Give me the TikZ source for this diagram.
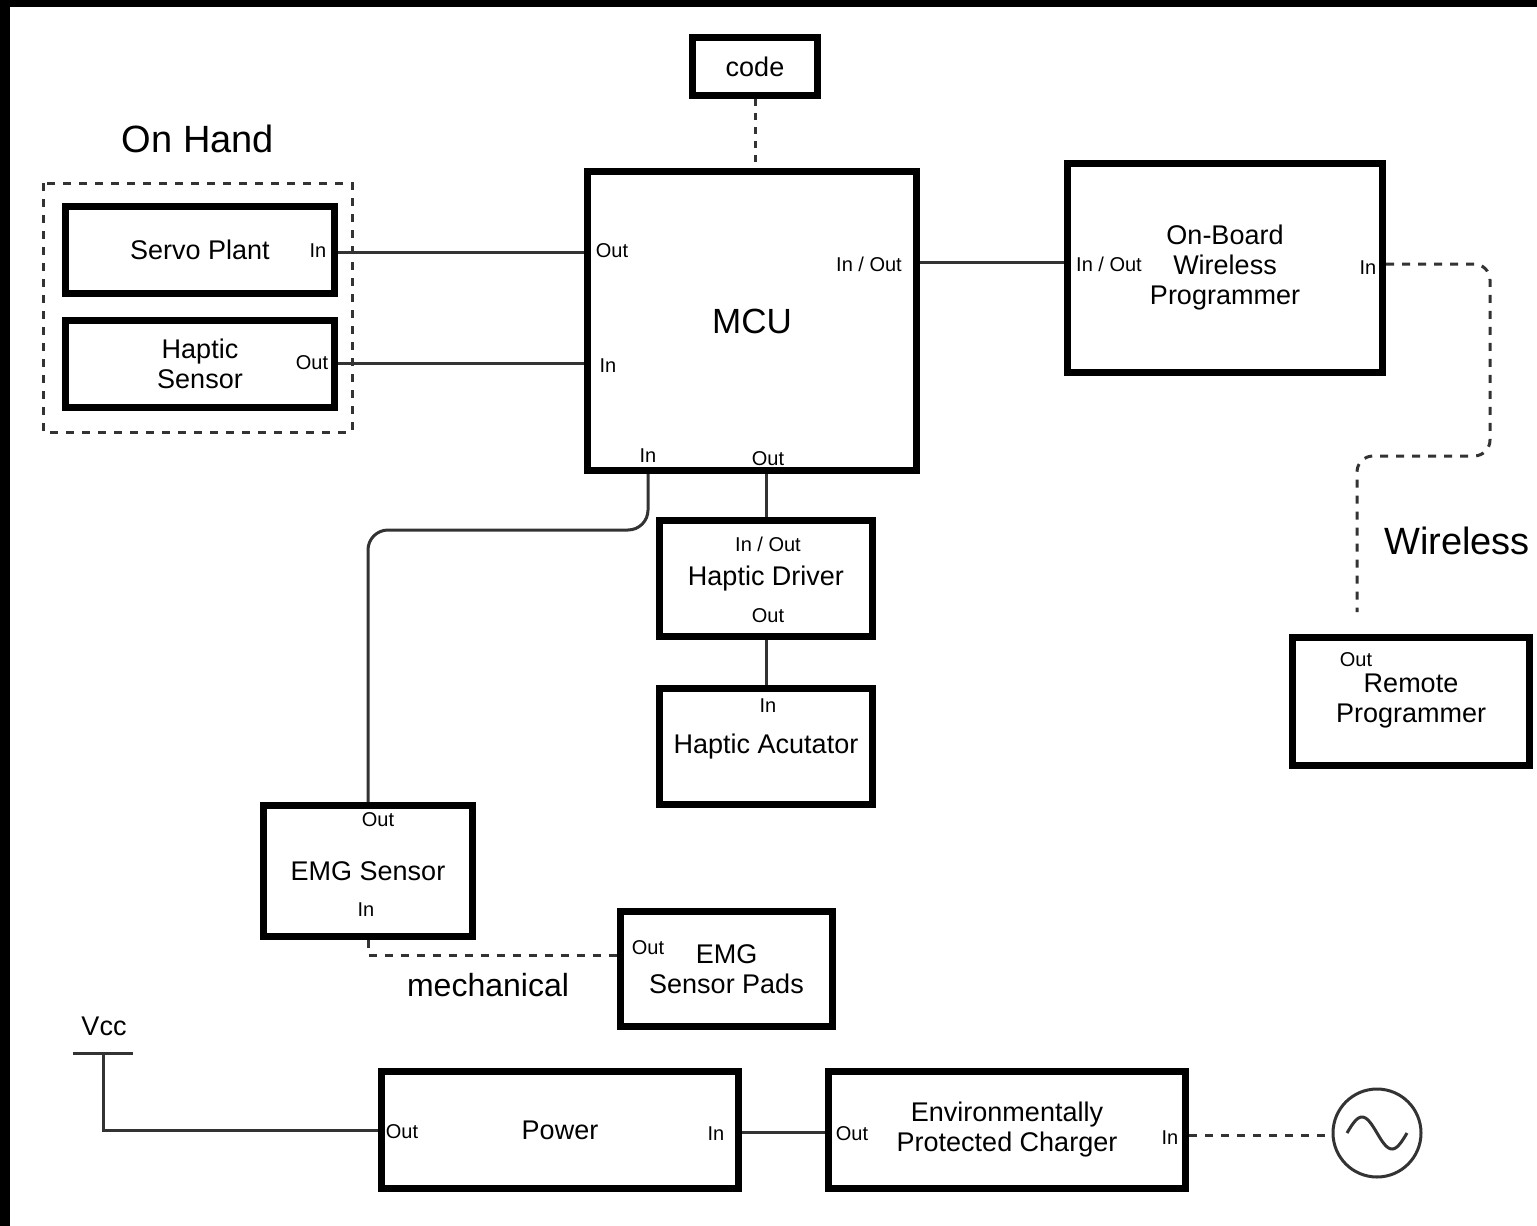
\documentclass[tikz,border=0pt]{standalone}
\usepackage{fontspec}
\setmainfont{Liberation Sans}
\newcommand\mainf{\fontsize{13.5}{15}\selectfont}
\newcommand\smallf{\fontsize{10}{12}\selectfont}
\newcommand\mcuf{\fontsize{17.5}{20}\selectfont}
\newcommand\bigf{\fontsize{19}{22}\selectfont}
\newcommand\mechf{\fontsize{16}{18}\selectfont}
\definecolor{wirec}{HTML}{333333}
\begin{document}
\begin{tikzpicture}[x=0.5pt,y=-0.5pt,
  box/.style={draw=black, line width=3.5pt, align=center, font=\mainf, inner sep=0pt},
  lbl/.style={font=\smallf, inner sep=0pt},
  title/.style={font=\bigf, inner sep=0pt},
  wire/.style={draw=wirec, line width=1.5pt},
  dwire/.style={draw=wirec, line width=1.5pt, dash pattern=on 4pt off 4pt},
]
\useasboundingbox (0,0) rectangle (1537,1226);
\fill[black] (0,0) rectangle (1537,7);
\fill[black] (0,0) rectangle (10,1226);

% boxes
\node[box, minimum width=62.5pt, minimum height=29pt] (code) at (755,66.5) {code};
\node[box, minimum width=164.5pt, minimum height=149.5pt, font=\mcuf] (mcu) at (752,321) {MCU};
\node[box, minimum width=134.5pt, minimum height=43.5pt] (servo) at (200,250) {Servo Plant};
\node[box, minimum width=134.5pt, minimum height=43.5pt] (hsens) at (200,364) {Haptic\\Sensor};
\node[box, minimum width=157.5pt, minimum height=104.5pt] (obwp) at (1225,268) {On-Board\\Wireless\\Programmer};
\node[box, minimum width=118.5pt, minimum height=64pt] (remote) at (1411,701.5) {Remote\\Programmer};
\node[box, minimum width=106.5pt, minimum height=58pt] (hdrv) at (766,578.5) {Haptic Driver};
\node[box, minimum width=106.5pt, minimum height=58pt] (hact) at (766,746.5) {Haptic Acutator};
\node[box, minimum width=104.5pt, minimum height=65.5pt] (emg) at (368,871) {EMG Sensor};
\node[box, minimum width=106pt, minimum height=57.5pt] (pads) at (726.5,969) {EMG\\Sensor Pads};
\node[box, minimum width=178.5pt, minimum height=58.5pt] (power) at (560,1130) {Power};
\node[box, minimum width=178.5pt, minimum height=58.5pt] (charger) at (1007,1130) {Environmentally\\Protected Charger};
\node[draw=wirec, line width=1.5pt, circle, minimum size=44pt, inner sep=0pt] (ac) at (1377,1133) {};
\draw[wirec, line width=1.5pt] plot[domain=-30:30, samples=50, smooth] ({1377+\x}, {1133-16*sin(180*(\x+30)/30)});

% group frame and titles
\draw[dwire] (43,183) rectangle (352,432);
\node[title] (onhand) at (198,139) {On Hand};
\node[title] (wless) at (1457,541) {Wireless};
\node[font=\mechf, inner sep=0pt] (mech) at (488,985) {mechanical};
\node[font=\mainf, inner sep=0pt] (vcc) at (104,1026) {Vcc};

% port labels
\node[lbl] (l1) at (612,251) {Out};
\node[lbl] (l2) at (608,366) {In};
\node[lbl] (l3) at (869,264) {In / Out};
\node[lbl] (l4) at (648,456) {In};
\node[lbl] (l5) at (768,459) {Out};
\node[lbl] (l6) at (318,251) {In};
\node[lbl] (l7) at (312,363) {Out};
\node[lbl] (l8) at (1109,264) {In / Out};
\node[lbl] (l9) at (1368,268) {In};
\node[lbl] (l10) at (1356,660) {Out};
\node[lbl] (l11) at (768,544) {In / Out};
\node[lbl] (l12) at (768,616) {Out};
\node[lbl] (l13) at (768,706) {In};
\node[lbl] (l14) at (378,820) {Out};
\node[lbl] (l15) at (366,910) {In};
\node[lbl] (l16) at (648,948) {Out};
\node[lbl] (l17) at (402,1132) {Out};
\node[lbl] (l18) at (716,1134) {In};
\node[lbl] (l19) at (852,1134) {Out};
\node[lbl] (l20) at (1170,1138) {In};

% connectors
\draw[dwire, dash pattern=on 3.5pt off 3.5pt] (code.south) -- (code.south |- mcu.north);
\draw[wire] (servo.east |- 0,252) -- (mcu.west |- 0,252);
\draw[wire] (hsens.east |- 0,363) -- (mcu.west |- 0,363);
\draw[wire] (mcu.east |- 0,262) -- (obwp.west |- 0,262);
\coordinate (wend) at (1357,612);
\draw[dwire, rounded corners=8pt] (obwp.east |- 0,264) -- (1490,264) -- (1490,456) -- (1357,456) -- (wend);
\draw[wire] (hdrv.north) -- (hdrv.north |- mcu.south);
\draw[wire] (hdrv.south) -- (hact.north);
\draw[wire, rounded corners=10pt] (mcu.south -| 648,0) -- (648,530) -- (368,530) -- (emg.north);
\draw[dwire] (emg.south) -- (368,955) -- (pads.west |- 0,955);
\coordinate (vbar) at (103,1053);
\draw[wire] (73,1053) -- (133,1053);
\draw[wire] (vbar) -- (103,1130) -- (power.west |- 0,1130);
\draw[wire] (power.east |- 0,1132) -- (charger.west |- 0,1132);
\draw[dwire] (charger.east |- 0,1135) -- (ac.west |- 0,1135);
\end{tikzpicture}
\end{document}
